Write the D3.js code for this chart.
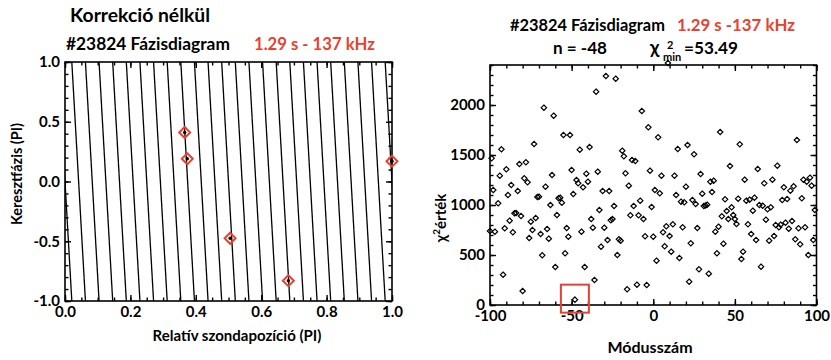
<!DOCTYPE html>
<html><head><meta charset="utf-8">
<script src="https://cdn.jsdelivr.net/npm/d3@7"></script>
<style>
body{margin:0;background:#fff;}
svg{display:block;font-family:Lato,'Open Sans',sans-serif;font-weight:bold;}
</style></head><body>
<svg id="chart" width="831" height="360"></svg>
<script>
// ---- Data ----
// probe positions (units of PI) and measured cross-phase (units of PI)
const probePos   = [0.366, 0.374, 0.505, 0.683, 1.0];
const probePhase = [0.41, 0.19, -0.475, -0.83, 0.17];
// best-fit mode number and its chi-square
const bestMode = -48;
const chi2Min = 53.49;
// chi-square of the fit for each tested mode number
const modeNumbers = [-100,-99,-98,-97,-95,-94,-93,-92,-91,-90,-89,-88,-87,-86,-85,-84,-83,-82,-81,-80,
  -79,-78,-77,-76,-75,-74,-73,-72,-71,-70,-69,-68,-67,-66,-65,-64,-63,-62,-61,-60,
  -59,-58,-57,-56,-55,-54,-53,-52,-51,-50,-49,-48,-47,-46,-45,-44,-43,-42,-41,-40,
  -39,-38,-37,-36,-35,-34,-33,-32,-31,-30,-29,-28,-27,-26,-25,-24,-23,-22,-21,-20,
  -19,-18,-17,-16,-15,-14,-13,-12,-11,-10,-9,-8,-7,-6,-5,-4,-3,-2,-1,0,
  1,2,3,4,5,6,7,8,9,10,11,12,13,14,15,16,17,18,19,20,
  21,22,23,24,25,26,27,28,29,30,31,32,33,34,35,36,37,38,39,40,
  41,42,43,44,45,46,47,48,49,50,51,52,53,54,55,56,57,58,59,60,
  61,62,63,64,65,66,67,68,69,70,71,72,73,74,75,76,77,78,79,80,
  81,82,83,84,85,86,87,88,89,90,91,92,93,94,95,96,97,98,99];
const chi2Values = [740,1467,1150,733,1017,1293,1557,303,767,1357,1100,843,1200,727,917,920,1140,1410,890,140,
  1267,1427,1227,670,833,750,1610,870,1080,1083,710,497,1973,1183,760,663,1000,1300,1893,380,
  900,1067,1073,1023,1700,517,770,683,1700,1350,1110,53.49,1250,1217,1553,733,1177,380,1313,1233,
  1580,860,773,250,2133,1333,950,583,1140,773,2290,650,1140,847,860,990,2263,500,657,643,
  1543,1487,1317,157,1193,897,1450,990,1440,203,897,1043,1940,860,687,200,1777,1343,980,683,
  1150,443,1677,1117,1293,727,587,787,2420,690,533,807,1293,1100,1560,470,1033,777,1027,1183,
  1600,233,617,1050,1507,1010,770,357,1310,1113,990,995,1003,313,1233,1130,1243,733,517,783,
  1730,887,613,1057,940,860,1390,977,900,860,810,1063,1607,460,533,1253,1043,807,1053,710,
  943,1073,650,1360,1000,383,993,1217,853,957,643,977,1253,690,800,1393,777,803,1050,1177,
  823,1060,763,1143,840,1187,657,1650,767,607,1067,1253,777,1233,500,1273,1193,650,950];
// tick values
const leftXTicks = [0, 0.2, 0.4, 0.6, 0.8, 1.0];
const leftYTicks = [-1.0, -0.5, 0.0, 0.5, 1.0];
const rightXTicks = [-100, -50, 0, 50, 100];
const rightYTicks = [0, 500, 1000, 1500, 2000];

// ---- Drawing ----
const red = '#e8412f';
const svg = d3.select('#chart');
const fmt1 = d => d.toFixed(1);
const fmt0 = d => String(d);

// scale a text's font so that it spans the given width
function fitText(sel, width) {
  const base = 16;
  sel.style('font-size', base + 'px');
  const w = sel.node().getComputedTextLength();
  sel.style('font-size', (base * width / w).toFixed(2) + 'px');
  return sel;
}
function label(x, y, str, width, color) {
  const t = svg.append('text').attr('x', x).attr('y', y).attr('fill', color || '#000').text(str);
  return fitText(t, width);
}

function frameAxes(g, x, y, box, o) {
  const major = 6, minor = 3.5;
  const mk = (gen, tr, vals, size, fmt) => {
    const a = g.append('g').attr('transform', tr)
      .call(gen.tickValues(vals).tickSizeInner(-size).tickSizeOuter(0).tickPadding(5).tickFormat(fmt));
    a.select('.domain').remove();
    a.selectAll('line').attr('stroke', '#000').attr('stroke-width', 1.4);
    a.selectAll('text').attr('fill', '#000').style('font-size', '15px').style('font-family', 'Lato,sans-serif').style('font-weight', 'bold');
    return a;
  };
  const none = () => '';
  // bottom / left labelled
  mk(d3.axisBottom(x), `translate(0,${box.y1})`, o.xt, major, o.xf);
  mk(d3.axisBottom(x), `translate(0,${box.y1})`, o.xm, minor, none);
  mk(d3.axisLeft(y), `translate(${box.x0},0)`, o.yt, major, o.yf);
  mk(d3.axisLeft(y), `translate(${box.x0},0)`, o.ym, minor, none);
  // mirrored top / right
  mk(d3.axisTop(x), `translate(0,${box.y0})`, o.xt, major, none);
  mk(d3.axisTop(x), `translate(0,${box.y0})`, o.xm, minor, none);
  mk(d3.axisRight(y), `translate(${box.x1},0)`, o.yt, major, none);
  mk(d3.axisRight(y), `translate(${box.x1},0)`, o.ym, minor, none);
  g.append('rect').attr('x', box.x0).attr('y', box.y0)
    .attr('width', box.x1 - box.x0).attr('height', box.y1 - box.y0)
    .attr('fill', 'none').attr('stroke', '#000').attr('stroke-width', 1.6);
}

// ---------- Left panel: phase diagram ----------
const L = {x0: 65, x1: 392, y0: 62, y1: 301};
const xL = d3.scaleLinear().domain([0, 1]).range([L.x0, L.x1]);
const yL = d3.scaleLinear().domain([-1, 1]).range([L.y1, L.y0]);
const gL = svg.append('g');

svg.append('clipPath').attr('id', 'clipL').append('rect')
  .attr('x', L.x0).attr('y', L.y0).attr('width', L.x1 - L.x0).attr('height', L.y1 - L.y0);

// model phase = n*x wrapped into [-1,1]: one straight segment per wrap
const wraps = d3.range(0, Math.abs(bestMode) / 2 + 1);
const segs = wraps.map(j => {
  const xa = (1 - 2 * j * Math.sign(-bestMode)) / bestMode; // phase = +1
  const xb = (-1 - 2 * j * Math.sign(-bestMode)) / bestMode; // phase = -1
  return [[xa, 1], [xb, -1]];
});
gL.append('g').attr('clip-path', 'url(#clipL)')
  .selectAll('line').data(segs).join('line')
  .attr('x1', d => xL(d[0][0])).attr('y1', d => yL(d[0][1]))
  .attr('x2', d => xL(d[1][0])).attr('y2', d => yL(d[1][1]))
  .attr('stroke', '#000').attr('stroke-width', 1.3);

frameAxes(gL, xL, yL, L, {
  xt: leftXTicks, xm: d3.range(0, 1.0001, 0.05), xf: fmt1,
  yt: leftYTicks, ym: d3.range(-1, 1.0001, 0.1), yf: fmt1
});

const probes = probePos.map((p, i) => ({x: p, y: probePhase[i]}));
const dsz = 5.5;
gL.selectAll('path.probe').data(probes).join('path').attr('class', 'probe')
  .attr('d', d => {
    const cx = xL(d.x), cy = yL(d.y);
    return `M${cx},${cy - dsz}L${cx + dsz},${cy}L${cx},${cy + dsz}L${cx - dsz},${cy}Z`;
  })
  .attr('fill', 'none').attr('stroke', red).attr('stroke-width', 2);
gL.selectAll('circle.probe').data(probes).join('circle').attr('class', 'probe')
  .attr('cx', d => xL(d.x)).attr('cy', d => yL(d.y)).attr('r', 1.7).attr('fill', '#000');

// titles
label(70, 22, 'Korrekció nélkül', 140);
label(66, 50, '#23824 Fázisdiagram', 164);
label(254, 50, '1.29 s - 137 kHz', 121, red);

svg.append('text').attr('transform', 'translate(22,174) rotate(-90)').attr('text-anchor', 'middle')
  .style('font-size', '14.5px').text('Keresztfázis (PI)');
svg.append('text').attr('x', 237).attr('y', 341).attr('text-anchor', 'middle')
  .style('font-size', '15px').text('Relatív szondapozíció (PI)');

// ---------- Right panel: chi-square vs mode number ----------
const R = {x0: 490, x1: 816.5, y0: 65, y1: 305};
const xR = d3.scaleLinear().domain([-100, 100]).range([R.x0, R.x1]);
const yR = d3.scaleLinear().domain([0, 2400]).range([R.y1, R.y0]);
const gR = svg.append('g');

frameAxes(gR, xR, yR, R, {
  xt: rightXTicks, xm: d3.range(-100, 100.1, 10), xf: fmt0,
  yt: rightYTicks, ym: d3.range(0, 2400.1, 100), yf: fmt0
});

const pts = modeNumbers.map((m, i) => ({m, v: chi2Values[i]}));
const s = 2.7;
gR.selectAll('path.pt').data(pts).join('path').attr('class', 'pt')
  .attr('d', d => {
    const cx = xR(d.m), cy = yR(d.v);
    return `M${cx},${cy - s}L${cx + s},${cy}L${cx},${cy + s}L${cx - s},${cy}Z`;
  })
  .attr('fill', 'none').attr('stroke', '#000').attr('stroke-width', 1.2);

// box round the best-fit mode
gR.append('rect')
  .attr('x', xR(bestMode) - 14).attr('y', yR(chi2Min) - 15)
  .attr('width', 28).attr('height', 28)
  .attr('fill', 'none').attr('stroke', red).attr('stroke-width', 2);

// titles
label(510, 31, '#23824 Fázisdiagram', 155);
label(677, 31, '1.29 s -137 kHz', 118, red);
label(553, 54, `n = ${bestMode}`, 54);
svg.append('text').attr('x', 650).attr('y', 54).style('font-size', '19px').text('χ');
svg.append('text').attr('x', 667).attr('y', 49).style('font-size', '11px').text('2');
svg.append('text').attr('x', 663).attr('y', 61).style('font-size', '11px').text('min');
label(684, 54, `=${chi2Min}`, 54);

const yl = svg.append('text').attr('transform', 'translate(446,218) rotate(-90)').attr('text-anchor', 'middle')
  .style('font-size', '15px');
yl.append('tspan').text('χ');
yl.append('tspan').attr('dy', -6).style('font-size', '10px').text('2');
yl.append('tspan').attr('dy', 6).text('érték');
svg.append('text').attr('x', 650).attr('y', 353).attr('text-anchor', 'middle')
  .style('font-size', '16px').text('Módusszám');
</script>
</body></html>
